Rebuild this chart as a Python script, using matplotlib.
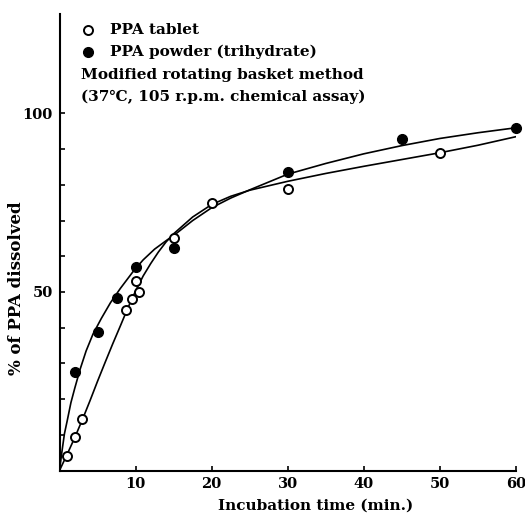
import matplotlib.pyplot as plt
from matplotlib.ticker import FixedLocator

# measured points
tablet_t = [1, 2, 3, 8.7, 9.5, 10, 10.5, 15, 20, 30, 50]
tablet_y = [4.2, 9.4, 14.5, 45, 48, 53, 50, 65, 74.8, 78.8, 88.8]
powder_t = [2, 5, 7.5, 10, 15, 30, 45, 60]
powder_y = [27.7, 38.8, 48.3, 57, 62.4, 83.6, 92.8, 96]

# fitted curves
tablet_curve_t = [0, 1, 2, 3, 4, 5, 6, 7, 8, 9, 10, 11, 12, 13, 14, 15,
                  17.5, 20, 22.5, 25, 30, 35, 40, 45, 50, 55, 60]
tablet_curve_y = [0, 4.5, 9.2, 14.2, 19.5, 25, 30.3, 35.5, 40.5, 45.6, 50.3, 54.5,
                  58, 61.2, 64, 66.3, 71, 74.5, 76.8, 78.5, 81, 83.2, 85.2, 87.1, 89, 91.1, 93.5]
powder_curve_t = [0, 0.3, 0.65, 1, 1.5, 2, 2.7, 3.5, 4.4, 5.5, 6.7, 8, 9.7, 11, 12.5,
                  14.1, 15, 17.5, 20, 22.5, 25, 30, 35, 40, 45, 50, 55, 60]
powder_curve_y = [0, 5, 10.3, 13.8, 19, 23, 28.3, 33.5, 38.2, 42.6, 47, 51, 55.8, 59,
                  62, 64.5, 65.8, 70, 73.6, 76.3, 78.6, 83, 86, 88.7, 91, 93, 94.6, 96]

plt.rcParams['font.family'] = 'DejaVu Serif'
plt.rcParams['font.weight'] = 'bold'

fig = plt.figure(figsize=(5.25, 5.25), dpi=100)
ax = fig.add_axes([59.5 / 525, 54.5 / 525, 456.5 / 525, 457 / 525])

ax.plot(tablet_curve_t, tablet_curve_y, color='black', lw=1.2)
ax.plot(powder_curve_t, powder_curve_y, color='black', lw=1.2)
ax.plot(tablet_t, tablet_y, 'o', ms=6.5, mfc='white', mec='black', mew=1.4, clip_on=False)
ax.plot(powder_t, powder_y, 'o', ms=7, mfc='black', mec='black', clip_on=False)

ax.set_xlim(0, 60)
ax.set_ylim(0, 128)
for s in ['top', 'right']:
    ax.spines[s].set_visible(False)
for s in ['left', 'bottom']:
    ax.spines[s].set_linewidth(1.5)

ax.set_xticks([10, 20, 30, 40, 50, 60])
ax.tick_params(axis='x', direction='in', length=3.5, width=1.2, labelsize=10.5, pad=5)
ax.set_yticks([50, 100])
ax.yaxis.set_minor_locator(FixedLocator([10, 20, 30, 40, 60, 70, 80, 90]))
ax.tick_params(axis='y', which='both', direction='in', length=3.5, width=1.2, labelsize=10.5, pad=5)

ax.set_xlabel('Incubation time (min.)', fontsize=11, fontweight='bold')
ax.xaxis.set_label_coords(0.56, -0.062)
ax.set_ylabel('% of PPA dissolved', fontsize=12, fontweight='bold')
ax.yaxis.set_label_coords(-0.076, 0.40)

# legend block
fig.lines.append(plt.Line2D([88 / 525], [1 - 30 / 525], marker='o', ms=6.5, mfc='white', mec='black', mew=1.4, transform=fig.transFigure))
fig.lines.append(plt.Line2D([88 / 525], [1 - 52 / 525], marker='o', ms=7, mfc='black', mec='black', transform=fig.transFigure))
fig.text(110 / 525, 1 - 30 / 525, 'PPA tablet', fontsize=11, va='center')
fig.text(110 / 525, 1 - 52 / 525, 'PPA powder (trihydrate)', fontsize=11, va='center')
fig.text(81 / 525, 1 - 75 / 525, 'Modified rotating basket method', fontsize=11, va='center')
fig.text(81 / 525, 1 - 97 / 525, '(37\u2103, 105 r.p.m. chemical assay)', fontsize=11, va='center')

fig.savefig('out.png', dpi=100)
